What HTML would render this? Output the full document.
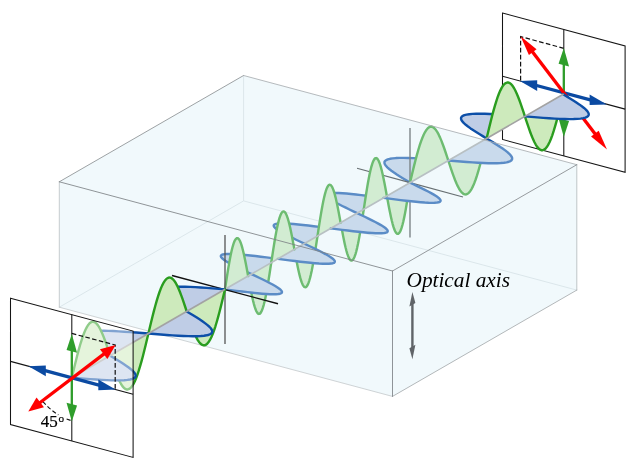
<!DOCTYPE html>
<html lang="en"><head><meta charset="utf-8"><title>Waveplate</title>
<style>html,body{margin:0;padding:0;background:#fff}svg{display:block}</style>
</head><body>
<svg width="640" height="468" viewBox="0 0 640 468">
<defs><filter id="gs" x="-5%" y="-20%" width="110%" height="140%" color-interpolation-filters="sRGB"><feColorMatrix type="saturate" values="0"/></filter></defs>
<rect width="640" height="468" fill="#fff"/>
<g id="right-panel">
<polygon points="502.50,13.07 625.10,45.93 625.10,172.33 502.50,139.47" fill="none" stroke="#151515" stroke-width="1.05" stroke-linejoin="miter"/>
<line x1="563.80" y1="29.50" x2="563.80" y2="155.90" stroke="#151515" stroke-width="1.05"/>
<line x1="502.50" y1="76.27" x2="625.10" y2="109.13" stroke="#151515" stroke-width="1.05"/>
<path d="M563.80 48.30 L520.60 36.60 L520.60 81.12" fill="none" stroke="#111" stroke-width="1.2" stroke-dasharray="4.6 2.4"/>
<line x1="563.80" y1="123.16" x2="563.80" y2="61.74" stroke="#2f9e2b" stroke-width="2.3"/>
<polygon points="563.80,47.90 569.05,66.61 558.55,63.79" fill="#2f9e2b"/>
<polygon points="563.80,137.00 569.05,121.11 558.55,118.29" fill="#2f9e2b"/>
<line x1="533.73" y1="84.72" x2="593.07" y2="100.68" stroke="#0b4aa2" stroke-width="3.3"/>
<polygon points="606.90,104.40 589.61,105.05 589.61,94.45" fill="#0b4aa2"/>
<polygon points="519.90,81.00 537.19,90.95 537.19,80.35" fill="#0b4aa2"/>
<line x1="597.29" y1="136.78" x2="530.31" y2="49.02" stroke="#ff0000" stroke-width="3.3"/>
<polygon points="520.60,36.30 536.55,49.29 528.92,55.11" fill="#ff0000"/>
<polygon points="607.00,149.50 598.68,130.69 591.05,136.51" fill="#ff0000"/>
</g>
<g id="box-hidden-edges">
<line x1="243.60" y1="75.50" x2="243.60" y2="200.90" stroke="#d3d9dc" stroke-width="0.8"/>
<line x1="243.60" y1="200.90" x2="576.80" y2="290.10" stroke="#d3d9dc" stroke-width="0.8"/>
<line x1="59.30" y1="307.20" x2="243.60" y2="200.90" stroke="#d3d9dc" stroke-width="0.8"/>
</g>
<g id="wave-inside">
<path d="M251.43 274.10 L247.56 272.27 L243.75 270.45 L240.06 268.67 L236.55 266.93 L233.27 265.25 L230.28 263.65 L227.63 262.15 L225.36 260.74 L223.51 259.45 L222.13 258.28 L221.22 257.24 L220.83 256.34 L220.97 255.58 L221.64 254.96 L222.86 254.49 L224.61 254.16 L226.89 253.97 L229.68 253.92 L232.95 254.00 L236.69 254.21 L240.84 254.52 L245.38 254.94 L250.26 255.45 L255.42 256.04 L260.82 256.69 L266.40 257.39 L272.10 258.12 L277.86 258.86Z" fill="#bfcde6"/>
<path d="M304.29 243.62 L300.42 241.79 L296.61 239.97 L292.92 238.18 L289.40 236.44 L286.13 234.77 L283.14 233.17 L280.49 231.66 L278.22 230.26 L276.37 228.96 L274.98 227.79 L274.08 226.76 L273.69 225.85 L273.83 225.09 L274.50 224.48 L275.71 224.00 L277.47 223.68 L279.74 223.49 L282.53 223.44 L285.81 223.52 L289.54 223.72 L293.70 224.04 L298.24 224.46 L303.12 224.97 L308.28 225.56 L313.68 226.21 L319.26 226.90 L324.96 227.63 L330.71 228.38Z" fill="#bfcde6"/>
<path d="M357.14 213.14 L353.27 211.30 L349.46 209.48 L345.77 207.70 L342.26 205.96 L338.98 204.28 L336.00 202.69 L333.34 201.18 L331.08 199.77 L329.23 198.48 L327.84 197.31 L326.94 196.27 L326.55 195.37 L326.68 194.61 L327.36 193.99 L328.57 193.52 L330.32 193.19 L332.60 193.01 L335.39 192.96 L338.67 193.04 L342.40 193.24 L346.56 193.56 L351.10 193.98 L355.97 194.49 L361.14 195.07 L366.54 195.72 L372.12 196.42 L377.81 197.15 L383.57 197.90Z" fill="#bfcde6"/>
<path d="M410.00 182.65 L406.55 180.57 L403.17 178.51 L399.90 176.48 L396.81 174.50 L393.96 172.58 L391.40 170.74 L389.17 168.98 L387.32 167.33 L385.90 165.80 L384.94 164.38 L384.46 163.10 L384.49 161.95 L385.05 160.95 L386.15 160.09 L387.79 159.37 L389.96 158.80 L392.67 158.37 L395.88 158.07 L399.58 157.91 L403.74 157.87 L408.32 157.94 L413.28 158.11 L418.58 158.38 L424.17 158.72 L429.99 159.13 L436.00 159.58 L442.12 160.06 L448.30 160.57Z" fill="#bfcde6"/>
<path d="M486.60 138.48 L483.15 136.40 L479.77 134.33 L476.50 132.30 L473.41 130.32 L470.56 128.40 L468.00 126.56 L465.77 124.81 L463.92 123.16 L462.50 121.62 L461.54 120.21 L461.06 118.92 L461.09 117.78 L461.65 116.77 L462.75 115.91 L464.39 115.19 L466.56 114.62 L469.27 114.19 L472.48 113.89 L476.18 113.73 L480.34 113.69 L484.92 113.76 L489.88 113.94 L495.18 114.20 L500.77 114.54 L506.59 114.95 L512.60 115.40 L518.72 115.89 L524.90 116.39Z" fill="#bfcde6"/>
<path d="M251.43 274.10 L247.56 272.27 L243.75 270.45 L240.06 268.67 L236.55 266.93 L233.27 265.25 L230.28 263.65 L227.63 262.15 L225.36 260.74 L223.51 259.45 L222.13 258.28 L221.22 257.24 L220.83 256.34 L220.97 255.58 L221.64 254.96 L222.86 254.49 L224.61 254.16 L226.89 253.97 L229.68 253.92 L232.95 254.00 L236.69 254.21 L240.84 254.52 L245.38 254.94 L250.26 255.45 L255.42 256.04 L260.82 256.69 L266.40 257.39 L272.10 258.12 L277.86 258.86" fill="none" stroke="#0d4fa8" stroke-width="2.4" stroke-linecap="round" stroke-linejoin="round"/>
<path d="M304.29 243.62 L300.42 241.79 L296.61 239.97 L292.92 238.18 L289.40 236.44 L286.13 234.77 L283.14 233.17 L280.49 231.66 L278.22 230.26 L276.37 228.96 L274.98 227.79 L274.08 226.76 L273.69 225.85 L273.83 225.09 L274.50 224.48 L275.71 224.00 L277.47 223.68 L279.74 223.49 L282.53 223.44 L285.81 223.52 L289.54 223.72 L293.70 224.04 L298.24 224.46 L303.12 224.97 L308.28 225.56 L313.68 226.21 L319.26 226.90 L324.96 227.63 L330.71 228.38" fill="none" stroke="#0d4fa8" stroke-width="2.4" stroke-linecap="round" stroke-linejoin="round"/>
<path d="M357.14 213.14 L353.27 211.30 L349.46 209.48 L345.77 207.70 L342.26 205.96 L338.98 204.28 L336.00 202.69 L333.34 201.18 L331.08 199.77 L329.23 198.48 L327.84 197.31 L326.94 196.27 L326.55 195.37 L326.68 194.61 L327.36 193.99 L328.57 193.52 L330.32 193.19 L332.60 193.01 L335.39 192.96 L338.67 193.04 L342.40 193.24 L346.56 193.56 L351.10 193.98 L355.97 194.49 L361.14 195.07 L366.54 195.72 L372.12 196.42 L377.81 197.15 L383.57 197.90" fill="none" stroke="#0d4fa8" stroke-width="2.4" stroke-linecap="round" stroke-linejoin="round"/>
<path d="M410.00 182.65 L406.55 180.57 L403.17 178.51 L399.90 176.48 L396.81 174.50 L393.96 172.58 L391.40 170.74 L389.17 168.98 L387.32 167.33 L385.90 165.80 L384.94 164.38 L384.46 163.10 L384.49 161.95 L385.05 160.95 L386.15 160.09 L387.79 159.37 L389.96 158.80 L392.67 158.37 L395.88 158.07 L399.58 157.91 L403.74 157.87 L408.32 157.94 L413.28 158.11 L418.58 158.38 L424.17 158.72 L429.99 159.13 L436.00 159.58 L442.12 160.06 L448.30 160.57" fill="none" stroke="#0d4fa8" stroke-width="2.4" stroke-linecap="round" stroke-linejoin="round"/>
<path d="M486.60 138.48 L483.15 136.40 L479.77 134.33 L476.50 132.30 L473.41 130.32 L470.56 128.40 L468.00 126.56 L465.77 124.81 L463.92 123.16 L462.50 121.62 L461.54 120.21 L461.06 118.92 L461.09 117.78 L461.65 116.77 L462.75 115.91 L464.39 115.19 L466.56 114.62 L469.27 114.19 L472.48 113.89 L476.18 113.73 L480.34 113.69 L484.92 113.76 L489.88 113.94 L495.18 114.20 L500.77 114.54 L506.59 114.95 L512.60 115.40 L518.72 115.89 L524.90 116.39" fill="none" stroke="#0d4fa8" stroke-width="2.4" stroke-linecap="round" stroke-linejoin="round"/>
<path d="M248.12 276.01 L248.95 280.50 L249.78 284.94 L250.60 289.25 L251.43 293.37 L252.25 297.25 L253.08 300.84 L253.91 304.07 L254.73 306.91 L255.56 309.32 L256.38 311.25 L257.21 312.68 L258.04 313.58 L258.86 313.94 L259.69 313.74 L260.51 312.99 L261.34 311.68 L262.17 309.82 L262.99 307.44 L263.82 304.55 L264.64 301.20 L265.47 297.40 L266.29 293.21 L267.12 288.68 L267.95 283.84 L268.77 278.77 L269.60 273.51 L270.42 268.12 L271.25 262.67Z" fill="#cdeabc"/>
<path d="M294.38 249.34 L295.20 253.83 L296.03 258.26 L296.85 262.57 L297.68 266.70 L298.50 270.58 L299.33 274.16 L300.16 277.40 L300.98 280.24 L301.81 282.64 L302.63 284.58 L303.46 286.01 L304.29 286.91 L305.11 287.27 L305.94 287.07 L306.76 286.31 L307.59 285.00 L308.42 283.15 L309.24 280.77 L310.07 277.88 L310.89 274.52 L311.72 270.73 L312.54 266.54 L313.37 262.00 L314.20 257.17 L315.02 252.09 L315.85 246.83 L316.67 241.45 L317.50 236.00Z" fill="#cdeabc"/>
<path d="M340.62 222.66 L341.45 227.16 L342.28 231.59 L343.10 235.90 L343.93 240.02 L344.75 243.90 L345.58 247.49 L346.41 250.72 L347.23 253.57 L348.06 255.97 L348.88 257.90 L349.71 259.33 L350.54 260.23 L351.36 260.59 L352.19 260.40 L353.01 259.64 L353.84 258.33 L354.67 256.47 L355.49 254.09 L356.32 251.21 L357.14 247.85 L357.97 244.06 L358.79 239.87 L359.62 235.33 L360.45 230.50 L361.27 225.42 L362.10 220.16 L362.92 214.77 L363.75 209.33Z" fill="#cdeabc"/>
<path d="M386.87 195.99 L387.70 200.48 L388.53 204.92 L389.35 209.23 L390.18 213.35 L391.00 217.23 L391.83 220.82 L392.66 224.05 L393.48 226.89 L394.31 229.30 L395.13 231.23 L395.96 232.66 L396.79 233.56 L397.61 233.92 L398.44 233.72 L399.26 232.97 L400.09 231.66 L400.92 229.80 L401.74 227.42 L402.57 224.53 L403.39 221.18 L404.22 217.38 L405.04 213.19 L405.87 208.66 L406.70 203.82 L407.52 198.75 L408.35 193.49 L409.17 188.10 L410.00 182.65Z" fill="#cdeabc"/>
<path d="M448.30 160.57 L449.67 164.75 L451.04 168.87 L452.40 172.86 L453.77 176.67 L455.14 180.24 L456.51 183.51 L457.88 186.44 L459.24 188.97 L460.61 191.06 L461.98 192.68 L463.35 193.80 L464.71 194.39 L466.08 194.43 L467.45 193.92 L468.82 192.85 L470.19 191.23 L471.55 189.06 L472.92 186.37 L474.29 183.17 L475.66 179.50 L477.02 175.39 L478.39 170.89 L479.76 166.04 L481.13 160.90 L482.50 155.51 L483.86 149.93 L485.23 144.24 L486.60 138.48Z" fill="#cdeabc"/>
<path d="M524.90 116.39 L526.27 120.57 L527.64 124.69 L529.00 128.69 L530.37 132.50 L531.74 136.07 L533.11 139.34 L534.48 142.26 L535.84 144.79 L537.21 146.88 L538.58 148.50 L539.95 149.62 L541.31 150.21 L542.68 150.25 L544.05 149.74 L545.42 148.68 L546.79 147.05 L548.15 144.89 L549.52 142.19 L550.89 138.99 L552.26 135.32 L553.62 131.22 L554.99 126.72 L556.36 121.87 L557.73 116.72 L559.10 111.33 L560.46 105.76 L561.83 100.06 L563.20 94.30Z" fill="#cdeabc"/>
<path d="M248.12 276.01 L248.95 280.50 L249.78 284.94 L250.60 289.25 L251.43 293.37 L252.25 297.25 L253.08 300.84 L253.91 304.07 L254.73 306.91 L255.56 309.32 L256.38 311.25 L257.21 312.68 L258.04 313.58 L258.86 313.94 L259.69 313.74 L260.51 312.99 L261.34 311.68 L262.17 309.82 L262.99 307.44 L263.82 304.55 L264.64 301.20 L265.47 297.40 L266.29 293.21 L267.12 288.68 L267.95 283.84 L268.77 278.77 L269.60 273.51 L270.42 268.12 L271.25 262.67" fill="none" stroke="#2a9d1f" stroke-width="2.4" stroke-linecap="round" stroke-linejoin="round"/>
<path d="M294.38 249.34 L295.20 253.83 L296.03 258.26 L296.85 262.57 L297.68 266.70 L298.50 270.58 L299.33 274.16 L300.16 277.40 L300.98 280.24 L301.81 282.64 L302.63 284.58 L303.46 286.01 L304.29 286.91 L305.11 287.27 L305.94 287.07 L306.76 286.31 L307.59 285.00 L308.42 283.15 L309.24 280.77 L310.07 277.88 L310.89 274.52 L311.72 270.73 L312.54 266.54 L313.37 262.00 L314.20 257.17 L315.02 252.09 L315.85 246.83 L316.67 241.45 L317.50 236.00" fill="none" stroke="#2a9d1f" stroke-width="2.4" stroke-linecap="round" stroke-linejoin="round"/>
<path d="M340.62 222.66 L341.45 227.16 L342.28 231.59 L343.10 235.90 L343.93 240.02 L344.75 243.90 L345.58 247.49 L346.41 250.72 L347.23 253.57 L348.06 255.97 L348.88 257.90 L349.71 259.33 L350.54 260.23 L351.36 260.59 L352.19 260.40 L353.01 259.64 L353.84 258.33 L354.67 256.47 L355.49 254.09 L356.32 251.21 L357.14 247.85 L357.97 244.06 L358.79 239.87 L359.62 235.33 L360.45 230.50 L361.27 225.42 L362.10 220.16 L362.92 214.77 L363.75 209.33" fill="none" stroke="#2a9d1f" stroke-width="2.4" stroke-linecap="round" stroke-linejoin="round"/>
<path d="M386.87 195.99 L387.70 200.48 L388.53 204.92 L389.35 209.23 L390.18 213.35 L391.00 217.23 L391.83 220.82 L392.66 224.05 L393.48 226.89 L394.31 229.30 L395.13 231.23 L395.96 232.66 L396.79 233.56 L397.61 233.92 L398.44 233.72 L399.26 232.97 L400.09 231.66 L400.92 229.80 L401.74 227.42 L402.57 224.53 L403.39 221.18 L404.22 217.38 L405.04 213.19 L405.87 208.66 L406.70 203.82 L407.52 198.75 L408.35 193.49 L409.17 188.10 L410.00 182.65" fill="none" stroke="#2a9d1f" stroke-width="2.4" stroke-linecap="round" stroke-linejoin="round"/>
<path d="M448.30 160.57 L449.67 164.75 L451.04 168.87 L452.40 172.86 L453.77 176.67 L455.14 180.24 L456.51 183.51 L457.88 186.44 L459.24 188.97 L460.61 191.06 L461.98 192.68 L463.35 193.80 L464.71 194.39 L466.08 194.43 L467.45 193.92 L468.82 192.85 L470.19 191.23 L471.55 189.06 L472.92 186.37 L474.29 183.17 L475.66 179.50 L477.02 175.39 L478.39 170.89 L479.76 166.04 L481.13 160.90 L482.50 155.51 L483.86 149.93 L485.23 144.24 L486.60 138.48" fill="none" stroke="#2a9d1f" stroke-width="2.4" stroke-linecap="round" stroke-linejoin="round"/>
<path d="M524.90 116.39 L526.27 120.57 L527.64 124.69 L529.00 128.69 L530.37 132.50 L531.74 136.07 L533.11 139.34 L534.48 142.26 L535.84 144.79 L537.21 146.88 L538.58 148.50 L539.95 149.62 L541.31 150.21 L542.68 150.25 L544.05 149.74 L545.42 148.68 L546.79 147.05 L548.15 144.89 L549.52 142.19 L550.89 138.99 L552.26 135.32 L553.62 131.22 L554.99 126.72 L556.36 121.87 L557.73 116.72 L559.10 111.33 L560.46 105.76 L561.83 100.06 L563.20 94.30" fill="none" stroke="#2a9d1f" stroke-width="2.4" stroke-linecap="round" stroke-linejoin="round"/>
<line x1="410.00" y1="128.00" x2="410.00" y2="237.50" stroke="#3c3c3c" stroke-width="1.35"/>
<line x1="357.00" y1="168.25" x2="410.00" y2="182.65" stroke="#222" stroke-width="1.1"/>
<path d="M225.00 289.35 L225.83 283.90 L226.65 278.51 L227.48 273.25 L228.30 268.18 L229.13 263.34 L229.96 258.81 L230.78 254.62 L231.61 250.82 L232.43 247.47 L233.26 244.58 L234.08 242.20 L234.91 240.34 L235.74 239.03 L236.56 238.28 L237.39 238.08 L238.21 238.44 L239.04 239.34 L239.87 240.77 L240.69 242.70 L241.52 245.11 L242.34 247.95 L243.17 251.18 L244.00 254.77 L244.82 258.65 L245.65 262.77 L246.47 267.08 L247.30 271.52 L248.12 276.01Z" fill="#cdeabc"/>
<path d="M271.25 262.67 L272.08 257.23 L272.90 251.84 L273.73 246.58 L274.55 241.50 L275.38 236.67 L276.21 232.13 L277.03 227.94 L277.86 224.15 L278.68 220.79 L279.51 217.91 L280.33 215.53 L281.16 213.67 L281.99 212.36 L282.81 211.60 L283.64 211.41 L284.46 211.77 L285.29 212.67 L286.12 214.10 L286.94 216.03 L287.77 218.43 L288.59 221.28 L289.42 224.51 L290.25 228.10 L291.07 231.98 L291.90 236.10 L292.72 240.41 L293.55 244.84 L294.38 249.34Z" fill="#cdeabc"/>
<path d="M317.50 236.00 L318.33 230.55 L319.15 225.17 L319.98 219.91 L320.80 214.83 L321.63 210.00 L322.46 205.46 L323.28 201.27 L324.11 197.48 L324.93 194.12 L325.76 191.23 L326.58 188.85 L327.41 187.00 L328.24 185.69 L329.06 184.93 L329.89 184.73 L330.71 185.09 L331.54 185.99 L332.37 187.42 L333.19 189.36 L334.02 191.76 L334.84 194.60 L335.67 197.84 L336.50 201.42 L337.32 205.30 L338.15 209.43 L338.97 213.74 L339.80 218.17 L340.62 222.66Z" fill="#cdeabc"/>
<path d="M363.75 209.33 L364.58 203.88 L365.40 198.49 L366.23 193.23 L367.05 188.16 L367.88 183.32 L368.71 178.79 L369.53 174.60 L370.36 170.80 L371.18 167.45 L372.01 164.56 L372.83 162.18 L373.66 160.32 L374.49 159.01 L375.31 158.26 L376.14 158.06 L376.96 158.42 L377.79 159.32 L378.62 160.75 L379.44 162.68 L380.27 165.09 L381.09 167.93 L381.92 171.16 L382.75 174.75 L383.57 178.63 L384.40 182.75 L385.22 187.06 L386.05 191.50 L386.87 195.99Z" fill="#cdeabc"/>
<path d="M410.00 182.65 L411.37 176.89 L412.74 171.20 L414.10 165.62 L415.47 160.23 L416.84 155.09 L418.21 150.24 L419.57 145.74 L420.94 141.63 L422.31 137.96 L423.68 134.76 L425.05 132.07 L426.41 129.90 L427.78 128.28 L429.15 127.21 L430.52 126.70 L431.89 126.74 L433.25 127.33 L434.62 128.45 L435.99 130.07 L437.36 132.16 L438.72 134.69 L440.09 137.62 L441.46 140.89 L442.83 144.46 L444.20 148.27 L445.56 152.26 L446.93 156.38 L448.30 160.57Z" fill="#cdeabc"/>
<path d="M486.60 138.48 L487.97 132.72 L489.34 127.02 L490.70 121.45 L492.07 116.06 L493.44 110.91 L494.81 106.06 L496.18 101.56 L497.54 97.45 L498.91 93.78 L500.28 90.59 L501.65 87.89 L503.01 85.72 L504.38 84.10 L505.75 83.03 L507.12 82.52 L508.49 82.57 L509.85 83.16 L511.22 84.27 L512.59 85.89 L513.96 87.99 L515.32 90.51 L516.69 93.44 L518.06 96.71 L519.43 100.28 L520.80 104.09 L522.16 108.09 L523.53 112.21 L524.90 116.39Z" fill="#cdeabc"/>
<path d="M225.00 289.35 L230.76 290.09 L236.46 290.82 L242.03 291.52 L247.43 292.17 L252.60 292.76 L257.47 293.27 L262.01 293.68 L266.17 294.00 L269.90 294.21 L273.18 294.29 L275.97 294.24 L278.25 294.05 L280.00 293.72 L281.21 293.25 L281.89 292.63 L282.02 291.87 L281.63 290.97 L280.73 289.93 L279.34 288.76 L277.50 287.47 L275.23 286.06 L272.58 284.56 L269.59 282.96 L266.31 281.28 L262.80 279.54 L259.11 277.76 L255.30 275.94 L251.43 274.10Z" fill="#bfcde6"/>
<path d="M277.86 258.86 L283.62 259.61 L289.31 260.34 L294.89 261.04 L300.29 261.69 L305.45 262.27 L310.33 262.78 L314.87 263.20 L319.03 263.52 L322.76 263.72 L326.04 263.80 L328.83 263.75 L331.11 263.57 L332.86 263.24 L334.07 262.77 L334.74 262.15 L334.88 261.39 L334.49 260.49 L333.59 259.45 L332.20 258.28 L330.35 256.99 L328.08 255.58 L325.43 254.07 L322.44 252.47 L319.17 250.80 L315.66 249.06 L311.97 247.27 L308.16 245.46 L304.29 243.62Z" fill="#bfcde6"/>
<path d="M330.71 228.38 L336.47 229.12 L342.17 229.85 L347.75 230.55 L353.15 231.20 L358.31 231.79 L363.19 232.30 L367.73 232.72 L371.88 233.03 L375.62 233.24 L378.89 233.32 L381.68 233.27 L383.96 233.08 L385.71 232.75 L386.93 232.28 L387.60 231.67 L387.74 230.90 L387.35 230.00 L386.45 228.96 L385.06 227.79 L383.21 226.50 L380.94 225.10 L378.29 223.59 L375.30 221.99 L372.02 220.31 L368.51 218.58 L364.82 216.79 L361.01 214.97 L357.14 213.14Z" fill="#bfcde6"/>
<path d="M383.57 197.90 L389.33 198.64 L395.03 199.37 L400.61 200.07 L406.00 200.72 L411.17 201.30 L416.04 201.81 L420.58 202.23 L424.74 202.55 L428.48 202.75 L431.75 202.83 L434.54 202.78 L436.82 202.60 L438.57 202.27 L439.79 201.80 L440.46 201.18 L440.60 200.42 L440.20 199.52 L439.30 198.48 L437.91 197.31 L436.07 196.02 L433.80 194.61 L431.15 193.10 L428.16 191.51 L424.88 189.83 L421.37 188.09 L417.68 186.31 L413.87 184.49 L410.00 182.65Z" fill="#bfcde6"/>
<path d="M448.30 160.57 L454.48 161.07 L460.60 161.55 L466.61 162.00 L472.43 162.41 L478.02 162.75 L483.32 163.02 L488.28 163.19 L492.86 163.26 L497.02 163.22 L500.72 163.06 L503.93 162.76 L506.64 162.33 L508.81 161.76 L510.45 161.04 L511.55 160.18 L512.11 159.18 L512.14 158.03 L511.66 156.75 L510.70 155.33 L509.28 153.80 L507.43 152.15 L505.20 150.40 L502.64 148.55 L499.79 146.63 L496.70 144.65 L493.43 142.62 L490.05 140.56 L486.60 138.48Z" fill="#bfcde6"/>
<path d="M524.90 116.39 L531.08 116.89 L537.20 117.37 L543.21 117.83 L549.03 118.23 L554.62 118.58 L559.92 118.84 L564.88 119.01 L569.46 119.09 L573.62 119.05 L577.32 118.88 L580.53 118.59 L583.24 118.16 L585.41 117.58 L587.05 116.87 L588.15 116.01 L588.71 115.00 L588.74 113.85 L588.26 112.57 L587.30 111.16 L585.88 109.62 L584.03 107.97 L581.80 106.22 L579.24 104.38 L576.39 102.46 L573.30 100.47 L570.03 98.44 L566.65 96.38 L563.20 94.30Z" fill="#bfcde6"/>
<line x1="410.00" y1="182.65" x2="463.00" y2="197.00" stroke="#222" stroke-width="1.1"/>
<path d="M225.00 289.35 L225.83 283.90 L226.65 278.51 L227.48 273.25 L228.30 268.18 L229.13 263.34 L229.96 258.81 L230.78 254.62 L231.61 250.82 L232.43 247.47 L233.26 244.58 L234.08 242.20 L234.91 240.34 L235.74 239.03 L236.56 238.28 L237.39 238.08 L238.21 238.44 L239.04 239.34 L239.87 240.77 L240.69 242.70 L241.52 245.11 L242.34 247.95 L243.17 251.18 L244.00 254.77 L244.82 258.65 L245.65 262.77 L246.47 267.08 L247.30 271.52 L248.12 276.01" fill="none" stroke="#2a9d1f" stroke-width="2.4" stroke-linecap="round" stroke-linejoin="round"/>
<path d="M271.25 262.67 L272.08 257.23 L272.90 251.84 L273.73 246.58 L274.55 241.50 L275.38 236.67 L276.21 232.13 L277.03 227.94 L277.86 224.15 L278.68 220.79 L279.51 217.91 L280.33 215.53 L281.16 213.67 L281.99 212.36 L282.81 211.60 L283.64 211.41 L284.46 211.77 L285.29 212.67 L286.12 214.10 L286.94 216.03 L287.77 218.43 L288.59 221.28 L289.42 224.51 L290.25 228.10 L291.07 231.98 L291.90 236.10 L292.72 240.41 L293.55 244.84 L294.38 249.34" fill="none" stroke="#2a9d1f" stroke-width="2.4" stroke-linecap="round" stroke-linejoin="round"/>
<path d="M317.50 236.00 L318.33 230.55 L319.15 225.17 L319.98 219.91 L320.80 214.83 L321.63 210.00 L322.46 205.46 L323.28 201.27 L324.11 197.48 L324.93 194.12 L325.76 191.23 L326.58 188.85 L327.41 187.00 L328.24 185.69 L329.06 184.93 L329.89 184.73 L330.71 185.09 L331.54 185.99 L332.37 187.42 L333.19 189.36 L334.02 191.76 L334.84 194.60 L335.67 197.84 L336.50 201.42 L337.32 205.30 L338.15 209.43 L338.97 213.74 L339.80 218.17 L340.62 222.66" fill="none" stroke="#2a9d1f" stroke-width="2.4" stroke-linecap="round" stroke-linejoin="round"/>
<path d="M363.75 209.33 L364.58 203.88 L365.40 198.49 L366.23 193.23 L367.05 188.16 L367.88 183.32 L368.71 178.79 L369.53 174.60 L370.36 170.80 L371.18 167.45 L372.01 164.56 L372.83 162.18 L373.66 160.32 L374.49 159.01 L375.31 158.26 L376.14 158.06 L376.96 158.42 L377.79 159.32 L378.62 160.75 L379.44 162.68 L380.27 165.09 L381.09 167.93 L381.92 171.16 L382.75 174.75 L383.57 178.63 L384.40 182.75 L385.22 187.06 L386.05 191.50 L386.87 195.99" fill="none" stroke="#2a9d1f" stroke-width="2.4" stroke-linecap="round" stroke-linejoin="round"/>
<path d="M410.00 182.65 L411.37 176.89 L412.74 171.20 L414.10 165.62 L415.47 160.23 L416.84 155.09 L418.21 150.24 L419.57 145.74 L420.94 141.63 L422.31 137.96 L423.68 134.76 L425.05 132.07 L426.41 129.90 L427.78 128.28 L429.15 127.21 L430.52 126.70 L431.89 126.74 L433.25 127.33 L434.62 128.45 L435.99 130.07 L437.36 132.16 L438.72 134.69 L440.09 137.62 L441.46 140.89 L442.83 144.46 L444.20 148.27 L445.56 152.26 L446.93 156.38 L448.30 160.57" fill="none" stroke="#2a9d1f" stroke-width="2.4" stroke-linecap="round" stroke-linejoin="round"/>
<path d="M486.60 138.48 L487.97 132.72 L489.34 127.02 L490.70 121.45 L492.07 116.06 L493.44 110.91 L494.81 106.06 L496.18 101.56 L497.54 97.45 L498.91 93.78 L500.28 90.59 L501.65 87.89 L503.01 85.72 L504.38 84.10 L505.75 83.03 L507.12 82.52 L508.49 82.57 L509.85 83.16 L511.22 84.27 L512.59 85.89 L513.96 87.99 L515.32 90.51 L516.69 93.44 L518.06 96.71 L519.43 100.28 L520.80 104.09 L522.16 108.09 L523.53 112.21 L524.90 116.39" fill="none" stroke="#2a9d1f" stroke-width="2.4" stroke-linecap="round" stroke-linejoin="round"/>
<path d="M225.00 289.35 L230.76 290.09 L236.46 290.82 L242.03 291.52 L247.43 292.17 L252.60 292.76 L257.47 293.27 L262.01 293.68 L266.17 294.00 L269.90 294.21 L273.18 294.29 L275.97 294.24 L278.25 294.05 L280.00 293.72 L281.21 293.25 L281.89 292.63 L282.02 291.87 L281.63 290.97 L280.73 289.93 L279.34 288.76 L277.50 287.47 L275.23 286.06 L272.58 284.56 L269.59 282.96 L266.31 281.28 L262.80 279.54 L259.11 277.76 L255.30 275.94 L251.43 274.10" fill="none" stroke="#0d4fa8" stroke-width="2.4" stroke-linecap="round" stroke-linejoin="round"/>
<path d="M277.86 258.86 L283.62 259.61 L289.31 260.34 L294.89 261.04 L300.29 261.69 L305.45 262.27 L310.33 262.78 L314.87 263.20 L319.03 263.52 L322.76 263.72 L326.04 263.80 L328.83 263.75 L331.11 263.57 L332.86 263.24 L334.07 262.77 L334.74 262.15 L334.88 261.39 L334.49 260.49 L333.59 259.45 L332.20 258.28 L330.35 256.99 L328.08 255.58 L325.43 254.07 L322.44 252.47 L319.17 250.80 L315.66 249.06 L311.97 247.27 L308.16 245.46 L304.29 243.62" fill="none" stroke="#0d4fa8" stroke-width="2.4" stroke-linecap="round" stroke-linejoin="round"/>
<path d="M330.71 228.38 L336.47 229.12 L342.17 229.85 L347.75 230.55 L353.15 231.20 L358.31 231.79 L363.19 232.30 L367.73 232.72 L371.88 233.03 L375.62 233.24 L378.89 233.32 L381.68 233.27 L383.96 233.08 L385.71 232.75 L386.93 232.28 L387.60 231.67 L387.74 230.90 L387.35 230.00 L386.45 228.96 L385.06 227.79 L383.21 226.50 L380.94 225.10 L378.29 223.59 L375.30 221.99 L372.02 220.31 L368.51 218.58 L364.82 216.79 L361.01 214.97 L357.14 213.14" fill="none" stroke="#0d4fa8" stroke-width="2.4" stroke-linecap="round" stroke-linejoin="round"/>
<path d="M383.57 197.90 L389.33 198.64 L395.03 199.37 L400.61 200.07 L406.00 200.72 L411.17 201.30 L416.04 201.81 L420.58 202.23 L424.74 202.55 L428.48 202.75 L431.75 202.83 L434.54 202.78 L436.82 202.60 L438.57 202.27 L439.79 201.80 L440.46 201.18 L440.60 200.42 L440.20 199.52 L439.30 198.48 L437.91 197.31 L436.07 196.02 L433.80 194.61 L431.15 193.10 L428.16 191.51 L424.88 189.83 L421.37 188.09 L417.68 186.31 L413.87 184.49 L410.00 182.65" fill="none" stroke="#0d4fa8" stroke-width="2.4" stroke-linecap="round" stroke-linejoin="round"/>
<path d="M448.30 160.57 L454.48 161.07 L460.60 161.55 L466.61 162.00 L472.43 162.41 L478.02 162.75 L483.32 163.02 L488.28 163.19 L492.86 163.26 L497.02 163.22 L500.72 163.06 L503.93 162.76 L506.64 162.33 L508.81 161.76 L510.45 161.04 L511.55 160.18 L512.11 159.18 L512.14 158.03 L511.66 156.75 L510.70 155.33 L509.28 153.80 L507.43 152.15 L505.20 150.40 L502.64 148.55 L499.79 146.63 L496.70 144.65 L493.43 142.62 L490.05 140.56 L486.60 138.48" fill="none" stroke="#0d4fa8" stroke-width="2.4" stroke-linecap="round" stroke-linejoin="round"/>
<path d="M524.90 116.39 L531.08 116.89 L537.20 117.37 L543.21 117.83 L549.03 118.23 L554.62 118.58 L559.92 118.84 L564.88 119.01 L569.46 119.09 L573.62 119.05 L577.32 118.88 L580.53 118.59 L583.24 118.16 L585.41 117.58 L587.05 116.87 L588.15 116.01 L588.71 115.00 L588.74 113.85 L588.26 112.57 L587.30 111.16 L585.88 109.62 L584.03 107.97 L581.80 106.22 L579.24 104.38 L576.39 102.46 L573.30 100.47 L570.03 98.44 L566.65 96.38 L563.20 94.30" fill="none" stroke="#0d4fa8" stroke-width="2.4" stroke-linecap="round" stroke-linejoin="round"/>
<line x1="225.00" y1="289.35" x2="563.20" y2="94.30" stroke="#a3a3a3" stroke-width="1.7" stroke-linecap="round"/>
</g>
<g id="box">
<polygon points="59.30,181.80 243.60,75.50 576.80,164.70 576.80,290.10 392.50,396.40 59.30,307.20" fill="rgb(218,239,247)" fill-opacity="0.38" stroke="none"/>
<line x1="59.30" y1="181.80" x2="243.60" y2="75.50" stroke="#8c9194" stroke-width="0.85" stroke-linecap="round"/>
<line x1="243.60" y1="75.50" x2="576.80" y2="164.70" stroke="#a9aeb1" stroke-width="0.85" stroke-linecap="round"/>
<line x1="576.80" y1="164.70" x2="576.80" y2="290.10" stroke="#b4babd" stroke-width="0.85" stroke-linecap="round"/>
<line x1="576.80" y1="290.10" x2="392.50" y2="396.40" stroke="#a6abae" stroke-width="0.85" stroke-linecap="round"/>
<line x1="392.50" y1="396.40" x2="59.30" y2="307.20" stroke="#c6cbce" stroke-width="0.85" stroke-linecap="round"/>
<line x1="59.30" y1="307.20" x2="59.30" y2="181.80" stroke="#bcc2c5" stroke-width="0.85" stroke-linecap="round"/>
<line x1="59.30" y1="181.80" x2="392.50" y2="271.00" stroke="#7d8285" stroke-width="0.85" stroke-linecap="round"/>
<line x1="392.50" y1="271.00" x2="392.50" y2="396.40" stroke="#7d8285" stroke-width="0.85" stroke-linecap="round"/>
<line x1="392.50" y1="271.00" x2="576.80" y2="164.70" stroke="#85898c" stroke-width="0.85" stroke-linecap="round"/>
</g>
<g id="wave-front">
<line x1="225.00" y1="235.00" x2="225.00" y2="344.00" stroke="#555" stroke-width="1.3"/>
<line x1="172.00" y1="275.50" x2="278.00" y2="303.75" stroke="#111" stroke-width="1.3"/>
<path d="M110.10 355.61 L106.65 353.53 L103.27 351.47 L100.00 349.44 L96.91 347.46 L94.06 345.54 L91.50 343.69 L89.27 341.94 L87.42 340.29 L86.00 338.75 L85.04 337.34 L84.56 336.06 L84.59 334.91 L85.15 333.90 L86.25 333.04 L87.89 332.33 L90.06 331.75 L92.77 331.32 L95.98 331.03 L99.68 330.87 L103.84 330.82 L108.42 330.90 L113.38 331.07 L118.68 331.34 L124.27 331.68 L130.09 332.08 L136.10 332.54 L142.22 333.02 L148.40 333.52Z" fill="#bfcde6"/>
<path d="M186.70 311.43 L183.25 309.36 L179.87 307.29 L176.60 305.26 L173.51 303.28 L170.66 301.36 L168.10 299.52 L165.87 297.76 L164.02 296.11 L162.60 294.58 L161.64 293.16 L161.16 291.88 L161.19 290.73 L161.75 289.73 L162.85 288.87 L164.49 288.15 L166.66 287.58 L169.37 287.15 L172.58 286.85 L176.28 286.69 L180.44 286.65 L185.02 286.72 L189.98 286.89 L195.28 287.16 L200.87 287.50 L206.69 287.91 L212.70 288.36 L218.82 288.85 L225.00 289.35Z" fill="#bfcde6"/>
<path d="M110.10 355.61 L106.65 353.53 L103.27 351.47 L100.00 349.44 L96.91 347.46 L94.06 345.54 L91.50 343.69 L89.27 341.94 L87.42 340.29 L86.00 338.75 L85.04 337.34 L84.56 336.06 L84.59 334.91 L85.15 333.90 L86.25 333.04 L87.89 332.33 L90.06 331.75 L92.77 331.32 L95.98 331.03 L99.68 330.87 L103.84 330.82 L108.42 330.90 L113.38 331.07 L118.68 331.34 L124.27 331.68 L130.09 332.08 L136.10 332.54 L142.22 333.02 L148.40 333.52" fill="none" stroke="#0d4fa8" stroke-width="2.4" stroke-linecap="round" stroke-linejoin="round"/>
<path d="M186.70 311.43 L183.25 309.36 L179.87 307.29 L176.60 305.26 L173.51 303.28 L170.66 301.36 L168.10 299.52 L165.87 297.76 L164.02 296.11 L162.60 294.58 L161.64 293.16 L161.16 291.88 L161.19 290.73 L161.75 289.73 L162.85 288.87 L164.49 288.15 L166.66 287.58 L169.37 287.15 L172.58 286.85 L176.28 286.69 L180.44 286.65 L185.02 286.72 L189.98 286.89 L195.28 287.16 L200.87 287.50 L206.69 287.91 L212.70 288.36 L218.82 288.85 L225.00 289.35" fill="none" stroke="#0d4fa8" stroke-width="2.4" stroke-linecap="round" stroke-linejoin="round"/>
<path d="M110.10 355.61 L111.47 359.79 L112.84 363.91 L114.20 367.91 L115.57 371.72 L116.94 375.29 L118.31 378.56 L119.67 381.49 L121.04 384.01 L122.41 386.11 L123.78 387.73 L125.15 388.84 L126.51 389.43 L127.88 389.48 L129.25 388.97 L130.62 387.90 L131.99 386.28 L133.35 384.11 L134.72 381.41 L136.09 378.22 L137.46 374.55 L138.82 370.44 L140.19 365.94 L141.56 361.09 L142.93 355.94 L144.30 350.55 L145.66 344.98 L147.03 339.28 L148.40 333.52Z" fill="#cdeabc"/>
<path d="M186.70 311.43 L188.07 315.62 L189.44 319.74 L190.80 323.73 L192.17 327.54 L193.54 331.11 L194.91 334.38 L196.27 337.31 L197.64 339.84 L199.01 341.93 L200.38 343.55 L201.75 344.67 L203.11 345.26 L204.48 345.30 L205.85 344.79 L207.22 343.72 L208.59 342.10 L209.95 339.93 L211.32 337.24 L212.69 334.04 L214.06 330.37 L215.42 326.26 L216.79 321.76 L218.16 316.91 L219.53 311.77 L220.90 306.38 L222.26 300.80 L223.63 295.11 L225.00 289.35Z" fill="#cdeabc"/>
<path d="M110.10 355.61 L111.47 359.79 L112.84 363.91 L114.20 367.91 L115.57 371.72 L116.94 375.29 L118.31 378.56 L119.67 381.49 L121.04 384.01 L122.41 386.11 L123.78 387.73 L125.15 388.84 L126.51 389.43 L127.88 389.48 L129.25 388.97 L130.62 387.90 L131.99 386.28 L133.35 384.11 L134.72 381.41 L136.09 378.22 L137.46 374.55 L138.82 370.44 L140.19 365.94 L141.56 361.09 L142.93 355.94 L144.30 350.55 L145.66 344.98 L147.03 339.28 L148.40 333.52" fill="none" stroke="#2a9d1f" stroke-width="2.4" stroke-linecap="round" stroke-linejoin="round"/>
<path d="M186.70 311.43 L188.07 315.62 L189.44 319.74 L190.80 323.73 L192.17 327.54 L193.54 331.11 L194.91 334.38 L196.27 337.31 L197.64 339.84 L199.01 341.93 L200.38 343.55 L201.75 344.67 L203.11 345.26 L204.48 345.30 L205.85 344.79 L207.22 343.72 L208.59 342.10 L209.95 339.93 L211.32 337.24 L212.69 334.04 L214.06 330.37 L215.42 326.26 L216.79 321.76 L218.16 316.91 L219.53 311.77 L220.90 306.38 L222.26 300.80 L223.63 295.11 L225.00 289.35" fill="none" stroke="#2a9d1f" stroke-width="2.4" stroke-linecap="round" stroke-linejoin="round"/>
<path d="M71.80 377.70 L73.17 371.94 L74.54 366.24 L75.90 360.67 L77.27 355.28 L78.64 350.13 L80.01 345.28 L81.38 340.78 L82.74 336.68 L84.11 333.01 L85.48 329.81 L86.85 327.11 L88.21 324.95 L89.58 323.32 L90.95 322.26 L92.32 321.75 L93.69 321.79 L95.05 322.38 L96.42 323.50 L97.79 325.12 L99.16 327.21 L100.52 329.74 L101.89 332.66 L103.26 335.93 L104.63 339.50 L106.00 343.31 L107.36 347.31 L108.73 351.43 L110.10 355.61Z" fill="#cdeabc"/>
<path d="M148.40 333.52 L149.77 327.76 L151.14 322.07 L152.50 316.49 L153.87 311.10 L155.24 305.96 L156.61 301.11 L157.97 296.61 L159.34 292.50 L160.71 288.83 L162.08 285.63 L163.45 282.94 L164.81 280.77 L166.18 279.15 L167.55 278.08 L168.92 277.57 L170.29 277.61 L171.65 278.20 L173.02 279.32 L174.39 280.94 L175.76 283.03 L177.12 285.56 L178.49 288.49 L179.86 291.76 L181.23 295.33 L182.60 299.14 L183.96 303.13 L185.33 307.25 L186.70 311.43Z" fill="#cdeabc"/>
<path d="M71.80 377.70 L77.98 378.20 L84.10 378.69 L90.11 379.14 L95.93 379.54 L101.52 379.89 L106.82 380.15 L111.78 380.33 L116.36 380.40 L120.52 380.36 L124.22 380.19 L127.43 379.90 L130.14 379.47 L132.31 378.90 L133.95 378.18 L135.05 377.32 L135.61 376.31 L135.64 375.17 L135.16 373.88 L134.20 372.47 L132.78 370.93 L130.93 369.28 L128.70 367.53 L126.14 365.69 L123.29 363.77 L120.20 361.78 L116.93 359.75 L113.55 357.69 L110.10 355.61Z" fill="#bfcde6"/>
<path d="M148.40 333.52 L154.58 334.02 L160.70 334.51 L166.71 334.96 L172.53 335.37 L178.12 335.71 L183.42 335.98 L188.38 336.15 L192.96 336.22 L197.12 336.18 L200.82 336.02 L204.03 335.72 L206.74 335.29 L208.91 334.72 L210.55 334.00 L211.65 333.14 L212.21 332.14 L212.24 330.99 L211.76 329.71 L210.80 328.29 L209.38 326.76 L207.53 325.11 L205.30 323.35 L202.74 321.51 L199.89 319.59 L196.80 317.61 L193.53 315.58 L190.15 313.51 L186.70 311.43Z" fill="#bfcde6"/>
<path d="M71.80 377.70 L73.17 371.94 L74.54 366.24 L75.90 360.67 L77.27 355.28 L78.64 350.13 L80.01 345.28 L81.38 340.78 L82.74 336.68 L84.11 333.01 L85.48 329.81 L86.85 327.11 L88.21 324.95 L89.58 323.32 L90.95 322.26 L92.32 321.75 L93.69 321.79 L95.05 322.38 L96.42 323.50 L97.79 325.12 L99.16 327.21 L100.52 329.74 L101.89 332.66 L103.26 335.93 L104.63 339.50 L106.00 343.31 L107.36 347.31 L108.73 351.43 L110.10 355.61" fill="none" stroke="#2a9d1f" stroke-width="2.4" stroke-linecap="round" stroke-linejoin="round"/>
<path d="M148.40 333.52 L149.77 327.76 L151.14 322.07 L152.50 316.49 L153.87 311.10 L155.24 305.96 L156.61 301.11 L157.97 296.61 L159.34 292.50 L160.71 288.83 L162.08 285.63 L163.45 282.94 L164.81 280.77 L166.18 279.15 L167.55 278.08 L168.92 277.57 L170.29 277.61 L171.65 278.20 L173.02 279.32 L174.39 280.94 L175.76 283.03 L177.12 285.56 L178.49 288.49 L179.86 291.76 L181.23 295.33 L182.60 299.14 L183.96 303.13 L185.33 307.25 L186.70 311.43" fill="none" stroke="#2a9d1f" stroke-width="2.4" stroke-linecap="round" stroke-linejoin="round"/>
<path d="M71.80 377.70 L77.98 378.20 L84.10 378.69 L90.11 379.14 L95.93 379.54 L101.52 379.89 L106.82 380.15 L111.78 380.33 L116.36 380.40 L120.52 380.36 L124.22 380.19 L127.43 379.90 L130.14 379.47 L132.31 378.90 L133.95 378.18 L135.05 377.32 L135.61 376.31 L135.64 375.17 L135.16 373.88 L134.20 372.47 L132.78 370.93 L130.93 369.28 L128.70 367.53 L126.14 365.69 L123.29 363.77 L120.20 361.78 L116.93 359.75 L113.55 357.69 L110.10 355.61" fill="none" stroke="#0d4fa8" stroke-width="2.4" stroke-linecap="round" stroke-linejoin="round"/>
<path d="M148.40 333.52 L154.58 334.02 L160.70 334.51 L166.71 334.96 L172.53 335.37 L178.12 335.71 L183.42 335.98 L188.38 336.15 L192.96 336.22 L197.12 336.18 L200.82 336.02 L204.03 335.72 L206.74 335.29 L208.91 334.72 L210.55 334.00 L211.65 333.14 L212.21 332.14 L212.24 330.99 L211.76 329.71 L210.80 328.29 L209.38 326.76 L207.53 325.11 L205.30 323.35 L202.74 321.51 L199.89 319.59 L196.80 317.61 L193.53 315.58 L190.15 313.51 L186.70 311.43" fill="none" stroke="#0d4fa8" stroke-width="2.4" stroke-linecap="round" stroke-linejoin="round"/>
<line x1="71.80" y1="377.70" x2="225.00" y2="289.35" stroke="#a3a3a3" stroke-width="1.7"/>
</g>
<g id="left-panel">
<polygon points="10.50,298.17 133.10,331.03 133.10,457.43 10.50,424.57" fill="rgba(255,255,255,0.48)" stroke="#151515" stroke-width="1.05" stroke-linejoin="miter"/>
<line x1="71.80" y1="314.60" x2="71.80" y2="441.00" stroke="#151515" stroke-width="1.05"/>
<line x1="10.50" y1="361.37" x2="133.10" y2="394.23" stroke="#151515" stroke-width="1.05"/>
<path d="M71.80 333.40 L115.20 345.00 L115.20 389.43" fill="none" stroke="#111" stroke-width="1.2" stroke-dasharray="4.6 2.4"/>
<path d="M42.9 401.6 Q49.8 409.6 58.4 414.8 M66.6 419.0 L70.6 420.4" fill="none" stroke="#111" stroke-width="1.1" stroke-dasharray="4.2 2.4"/>
<line x1="71.80" y1="407.56" x2="71.80" y2="347.84" stroke="#2f9e2b" stroke-width="2.3"/>
<polygon points="71.80,334.00 77.05,352.71 66.55,349.89" fill="#2f9e2b"/>
<polygon points="71.80,421.40 77.05,405.51 66.55,402.69" fill="#2f9e2b"/>
<line x1="42.33" y1="369.90" x2="101.77" y2="385.80" stroke="#0b4aa2" stroke-width="3.3"/>
<polygon points="115.60,389.50 98.31,390.17 98.31,379.57" fill="#0b4aa2"/>
<polygon points="28.50,366.20 45.79,376.13 45.79,365.53" fill="#0b4aa2"/>
<line x1="37.85" y1="404.24" x2="106.05" y2="352.36" stroke="#ff0000" stroke-width="3.3"/>
<polygon points="115.60,345.10 107.38,359.08 99.94,349.29" fill="#ff0000"/>
<polygon points="28.30,411.50 43.96,407.31 36.52,397.52" fill="#ff0000"/>
<text x="40.7" y="427.2" font-family="'Liberation Serif', serif" font-size="17" fill="#000" stroke="#000" stroke-width="0.2" filter="url(#gs)">45<tspan font-size="11.2" dx="0.7" dy="-5.6">o</tspan></text>
</g>
<g id="label">
<text x="406.5" y="286.6" font-family="'Liberation Serif', serif" font-style="italic" font-size="21.3" fill="#000" filter="url(#gs)">Optical axis</text>
<line x1="412.40" y1="348.96" x2="412.40" y2="302.24" stroke="#606468" stroke-width="2.4"/>
<polygon points="412.40,292.00 415.40,303.07 409.40,306.53" fill="#606468"/>
<polygon points="412.40,359.20 415.40,344.67 409.40,348.13" fill="#606468"/>
</g>
</svg>
</body></html>
